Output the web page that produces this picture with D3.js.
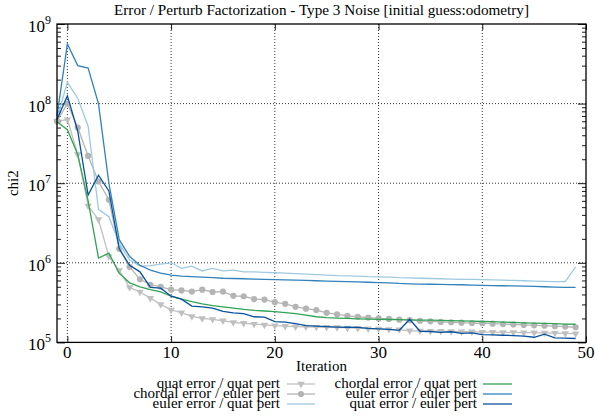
<!DOCTYPE html>
<html>
<head>
<meta charset="utf-8">
<script src="https://cdn.jsdelivr.net/npm/d3@7"></script>
<style>
  body { margin: 0; background: #fff; }
  text { font-family: "Liberation Serif", "DejaVu Serif", serif; fill: #000; }
</style>
</head>
<body>
<div id="chart"></div>
<script>
// iterations -1 .. 49 (first point is the initial guess)
var iterations = d3.range(-1, 50)

var quatQuat = [6.0e7, 6.3e7, 2.3e7, 5.2e6, 3.5e6, 1.2e6, 8.0e5, 4.9e5, 4.3e5, 3.6e5,
  3.0e5, 2.56e5, 2.36e5, 2.12e5, 2.0e5, 1.95e5, 1.87e5, 1.78e5, 1.74e5, 1.70e5,
  1.66e5, 1.62e5, 1.60e5, 1.58e5, 1.57e5, 1.56e5, 1.55e5, 1.54e5, 1.52e5, 1.51e5,
  1.49e5, 1.48e5, 1.46e5, 1.45e5, 1.40e5, 1.39e5, 1.38e5, 1.38e5, 1.37e5, 1.36e5,
  1.36e5, 1.35e5, 1.345e5, 1.34e5, 1.335e5, 1.33e5, 1.325e5, 1.32e5, 1.31e5, 1.30e5, 1.29e5]

var chordEuler = [6.0e7, 1.0e8, 5.0e7, 2.2e7, 1.05e7, 6.2e6, 1.5e6, 8.9e5, 6.2e5, 5.3e5,
  5.0e5, 4.6e5, 4.5e5, 4.35e5, 4.6e5, 4.3e5, 4.35e5, 3.85e5, 3.8e5, 3.5e5,
  3.45e5, 3.2e5, 3.05e5, 2.8e5, 2.65e5, 2.55e5, 2.35e5, 2.25e5, 2.15e5, 2.1e5,
  2.05e5, 2.0e5, 1.97e5, 1.93e5, 1.9e5, 1.87e5, 1.84e5, 1.81e5, 1.79e5, 1.77e5,
  1.75e5, 1.74e5, 1.72e5, 1.70e5, 1.68e5, 1.66e5, 1.64e5, 1.62e5, 1.60e5, 1.58e5, 1.55e5]

var eulerQuat = [6.5e7, 1.85e8, 1.17e8, 5.2e7, 4.7e6, 3.8e6, 1.76e6, 1.08e6, 9.1e5, 9.2e5,
  9.6e5, 1.0e6, 8.5e5, 9.1e5, 7.9e5, 8.5e5, 7.9e5, 8.1e5, 7.7e5, 7.7e5,
  7.6e5, 7.5e5, 7.4e5, 7.3e5, 7.2e5, 7.1e5, 7.0e5, 6.9e5, 6.85e5, 6.8e5,
  6.7e5, 6.65e5, 6.6e5, 6.5e5, 6.45e5, 6.4e5, 6.35e5, 6.3e5, 6.25e5, 6.2e5,
  6.2e5, 6.15e5, 6.1e5, 6.05e5, 6.0e5, 5.95e5, 5.9e5, 5.85e5, 5.8e5, 5.8e5, 8.9e5]

var chordQuat = [5.9e7, 4.7e7, 2.3e7, 6.0e6, 1.15e6, 1.32e6, 7.4e5, 5.6e5, 5.0e5, 4.6e5,
  4.3e5, 3.8e5, 3.5e5, 3.25e5, 3.05e5, 2.9e5, 2.8e5, 2.7e5, 2.6e5, 2.53e5,
  2.48e5, 2.43e5, 2.36e5, 2.3e5, 2.2e5, 2.1e5, 2.05e5, 2.02e5, 2.0e5, 1.98e5,
  1.96e5, 1.95e5, 1.94e5, 1.93e5, 1.92e5, 1.91e5, 1.9e5, 1.89e5, 1.88e5, 1.86e5,
  1.85e5, 1.83e5, 1.82e5, 1.8e5, 1.78e5, 1.76e5, 1.75e5, 1.73e5, 1.72e5, 1.7e5, 1.69e5]

var eulerEuler = [7.0e7, 5.6e8, 3.0e8, 2.8e8, 1.0e8, 1.0e7, 1.95e6, 1.2e6, 9.3e5, 8.1e5,
  7.4e5, 7.0e5, 6.8e5, 6.7e5, 6.6e5, 6.5e5, 6.4e5, 6.35e5, 6.3e5, 6.25e5,
  6.2e5, 6.15e5, 6.1e5, 6.05e5, 6.0e5, 5.95e5, 5.9e5, 5.85e5, 5.8e5, 5.75e5,
  5.7e5, 5.65e5, 5.6e5, 5.5e5, 5.45e5, 5.4e5, 5.38e5, 5.35e5, 5.32e5, 5.3e5,
  5.25e5, 5.2e5, 5.18e5, 5.15e5, 5.12e5, 5.1e5, 5.05e5, 5.0e5, 4.95e5, 4.9e5, 4.9e5]

var quatEuler = [6.3e7, 1.25e8, 4.5e7, 7.1e6, 1.26e7, 8.0e6, 1.5e6, 9.3e5, 7.7e5, 4.9e5,
  4.8e5, 3.8e5, 3.5e5, 2.86e5, 2.8e5, 2.7e5, 2.45e5, 2.35e5, 2.3e5, 2.1e5,
  2.08e5, 1.82e5, 1.8e5, 1.72e5, 1.62e5, 1.6e5, 1.58e5, 1.56e5, 1.55e5, 1.54e5,
  1.5e5, 1.48e5, 1.46e5, 1.42e5, 1.95e5, 1.38e5, 1.37e5, 1.34e5, 1.36e5, 1.3e5,
  1.32e5, 1.25e5, 1.24e5, 1.23e5, 1.22e5, 1.2e5, 1.16e5, 1.27e5, 1.14e5, 1.13e5, 1.12e5]

var seriesNames = ["quat error / quat pert", "chordal error / euler pert", "euler error / quat pert",
  "chordal error / quat pert", "euler error / euler pert", "quat error / euler pert"]
var seriesValues = [quatQuat, chordEuler, eulerQuat, chordQuat, eulerEuler, quatEuler]
var seriesColors = ["#c0c0c0", "#b4b4b4", "#9ecae1", "#31a354", "#3182bd", "#08519c"]
var seriesMarkers = ["triangle", "circle", null, null, null, null]

var xTicks = [0, 10, 20, 30, 40, 50]
var yTicks = [1e5, 1e6, 1e7, 1e8, 1e9]
var yExponents = ["5", "6", "7", "8", "9"]

var title = "Error / Perturb Factorization - Type 3 Noise [initial guess:odometry]"

var margin = {top: 24, right: 9, bottom: 73.6, left: 57}
var width = 595 - margin.left - margin.right
var height = 416 - margin.top - margin.bottom

var svg = d3.select("#chart")
  .append("svg")
    .attr("width", 595)
    .attr("height", 416)

var g = svg.append("g")
  .attr("transform", "translate(" + margin.left + "," + margin.top + ")")

var xScale = d3.scaleLinear().domain([-1, 50]).range([0, width])
var yScale = d3.scaleLog().domain([1e5, 1e9]).range([height, 0])

// grid
g.selectAll(".vgrid")
  .data(xTicks.filter(function(d) { return d < 50 }))
  .enter().append("line")
    .attr("x1", function(d) { return xScale(d) })
    .attr("x2", function(d) { return xScale(d) })
    .attr("y1", 0).attr("y2", height)
    .attr("stroke", "#000").attr("stroke-width", 0.8)
    .attr("stroke-dasharray", "1,2")

g.selectAll(".hgrid")
  .data(yTicks.slice(1, 4))
  .enter().append("line")
    .attr("x1", 0).attr("x2", width)
    .attr("y1", function(d) { return yScale(d) })
    .attr("y2", function(d) { return yScale(d) })
    .attr("stroke", "#000").attr("stroke-width", 0.8)
    .attr("stroke-dasharray", "1,2")

// minor ticks on the log axis
var minorTicks = []
yTicks.slice(0, 4).forEach(function(t) {
  for (var k = 2; k < 10; k++) minorTicks.push(t * k)
})

function tickAxis(axis, size, values) {
  return axis.tickValues(values).tickSize(size).tickFormat("")
}

g.append("g").call(tickAxis(d3.axisLeft(yScale), -8, yTicks))
g.append("g").call(tickAxis(d3.axisLeft(yScale), -4, minorTicks))
g.append("g").attr("transform", "translate(" + width + ",0)")
  .call(tickAxis(d3.axisRight(yScale), -8, yTicks))
g.append("g").attr("transform", "translate(" + width + ",0)")
  .call(tickAxis(d3.axisRight(yScale), -4, minorTicks))
g.append("g").attr("transform", "translate(0," + height + ")")
  .call(tickAxis(d3.axisBottom(xScale), -6, xTicks))
g.append("g")
  .call(tickAxis(d3.axisTop(xScale), -6, xTicks))
g.selectAll(".domain").remove()
g.selectAll(".tick line").attr("stroke", "#000").attr("stroke-width", 0.9)

// series
var line = d3.line()
  .x(function(d, i) { return xScale(iterations[i]) })
  .y(function(d) { return yScale(d) })

var tri = d3.symbol().type(d3.symbolTriangle).size(24)

function drawMarker(sel, kind, color) {
  if (kind === "triangle") {
    sel.append("path").attr("d", tri).attr("transform", function(d) {
      return "translate(" + d[0] + "," + d[1] + ") rotate(180)" })
      .attr("fill", color)
  } else if (kind === "circle") {
    sel.append("circle").attr("cx", function(d) { return d[0] })
      .attr("cy", function(d) { return d[1] }).attr("r", 3.1).attr("fill", color)
  }
}

seriesValues.forEach(function(vals, s) {
  var sg = g.append("g")
  sg.append("path")
    .datum(vals)
    .attr("d", line)
    .attr("fill", "none")
    .attr("stroke", seriesColors[s])
    .attr("stroke-width", 1.3)
  if (seriesMarkers[s]) {
    var pts = vals.map(function(v, i) { return [xScale(iterations[i]), yScale(v)] })
    var m = sg.selectAll(".m").data(pts).enter().append("g")
    drawMarker(m, seriesMarkers[s], seriesColors[s])
  }
})

// frame
g.append("rect")
  .attr("width", width).attr("height", height)
  .attr("fill", "none").attr("stroke", "#000").attr("stroke-width", 1.3)

// tick labels
g.selectAll(".xlab")
  .data(xTicks)
  .enter().append("text")
    .attr("x", function(d) { return xScale(d) })
    .attr("y", height + 16)
    .attr("text-anchor", "middle")
    .attr("font-size", 17)
    .text(function(d) { return d })

var ylab = g.selectAll(".ylab")
  .data(yTicks)
  .enter().append("text")
    .attr("x", -6)
    .attr("y", function(d) { return yScale(d) + 8 })
    .attr("text-anchor", "end")
    .attr("font-size", 17)
ylab.append("tspan").text("10")
ylab.append("tspan").attr("dy", -8).attr("font-size", 12)
  .text(function(d, i) { return yExponents[i] })

// axis titles
g.append("text")
  .attr("x", width / 2).attr("y", height + 29)
  .attr("text-anchor", "middle").attr("font-size", 15)
  .text("Iteration")

g.append("text")
  .attr("transform", "translate(" + (-39) + "," + (yScale(1e7)) + ") rotate(-90)")
  .attr("text-anchor", "middle").attr("font-size", 15)
  .text("chi2")

svg.append("text")
  .attr("x", margin.left + width / 2).attr("y", 15)
  .attr("text-anchor", "middle").attr("font-size", 15.2)
  .text(title)

// legend, two columns of three (rows overlap slightly, as in the original)
var legendCols = [{right: 280, x1: 287, x2: 315}, {right: 477, x1: 483, x2: 512}]
seriesNames.forEach(function(name, s) {
  var col = legendCols[Math.floor(s / 3)]
  var yy = 384 + (s % 3) * 10
  var lg = svg.append("g")
  lg.append("text")
    .attr("x", col.right).attr("y", yy + 4)
    .attr("text-anchor", "end").attr("font-size", 15)
    .text(name)
  lg.append("line")
    .attr("x1", col.x1).attr("x2", col.x2)
    .attr("y1", yy).attr("y2", yy)
    .attr("stroke", seriesColors[s]).attr("stroke-width", 1.3)
  if (seriesMarkers[s]) {
    var m = lg.selectAll(".m").data([[(col.x1 + col.x2) / 2, yy]]).enter().append("g")
    drawMarker(m, seriesMarkers[s], seriesColors[s])
  }
})
</script>
</body>
</html>
